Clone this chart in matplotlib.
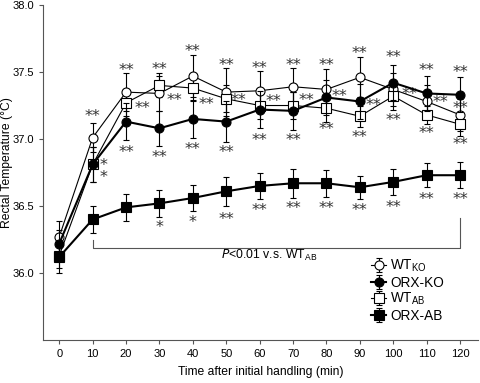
import matplotlib
matplotlib.use('Agg')
import matplotlib.pyplot as plt

plt.rcParams['font.family'] = ['Liberation Sans', 'DejaVu Sans']

# 시간 (min)
time = [0, 10, 20, 30, 40, 50, 60, 70, 80, 90, 100, 110, 120]

# 평균값
wt_ko = [36.27, 37.01, 37.35, 37.34, 37.47, 37.35, 37.36, 37.39, 37.37, 37.46, 37.37, 37.28, 37.18]
orx_ko = [36.22, 36.81, 37.13, 37.08, 37.15, 37.13, 37.22, 37.21, 37.31, 37.28, 37.42, 37.34, 37.33]
wt_ab = [36.13, 36.81, 37.27, 37.40, 37.38, 37.30, 37.25, 37.25, 37.23, 37.17, 37.32, 37.18, 37.11]
orx_ab = [36.12, 36.40, 36.49, 36.52, 36.56, 36.61, 36.65, 36.67, 36.67, 36.64, 36.68, 36.73, 36.73]

# SEM
wt_ko_err = [0.12, 0.11, 0.14, 0.13, 0.16, 0.18, 0.15, 0.14, 0.15, 0.15, 0.12, 0.12, 0.12]
orx_ko_err = [0.10, 0.13, 0.14, 0.13, 0.14, 0.15, 0.14, 0.14, 0.13, 0.13, 0.13, 0.13, 0.13]
wt_ab_err = [0.13, 0.13, 0.10, 0.09, 0.10, 0.10, 0.10, 0.10, 0.10, 0.08, 0.10, 0.07, 0.09]
orx_ab_err = [0.08, 0.10, 0.10, 0.10, 0.10, 0.11, 0.10, 0.11, 0.10, 0.085, 0.10, 0.09, 0.095]

# 유의성 표시 (x, y, 텍스트) - y는 별표 중심
stars_x = [10, 13.2, 13.2, 20, 24.8, 20, 30, 34.4, 30, 40, 44, 40, 50, 53.6, 50,
           60, 64, 60, 70, 74, 70, 80, 84, 80, 90, 94, 90, 100, 105, 100,
           110, 114, 110, 120, 120, 120,
           30, 40, 50, 60, 70, 80, 90, 100, 110, 120]
stars_y = [37.19, 36.82, 36.73, 37.53, 37.25, 36.92, 37.54, 37.31, 36.88, 37.67, 37.28, 36.94,
           37.57, 37.31, 36.92, 37.55, 37.30, 37.01, 37.57, 37.31, 37.01, 37.57, 37.34, 37.09,
           37.66, 37.27, 37.03, 37.63, 37.35, 37.16, 37.53, 37.29, 37.06, 37.52, 37.25, 36.98,
           36.36, 36.40, 36.42, 36.49, 36.50, 36.50, 36.49, 36.51, 36.57, 36.57]
stars_txt = ['**', '*', '*'] + ['**'] * 33 + ['*', '*'] + ['**'] * 8

fig = plt.figure(figsize=(4.8, 3.83), dpi=100)
ax = fig.add_axes([0.09, 0.112, 0.906, 0.875])

ekw = dict(color='black', elinewidth=0.8, capsize=2.5, capthick=0.8, markersize=6.5,
           markeredgecolor='black', markeredgewidth=0.8)
ax.errorbar(time, wt_ko, yerr=wt_ko_err, fmt='-o', lw=0.8, markerfacecolor='white',
            label='WT$_{\\mathregular{KO}}$', zorder=3, **ekw)
ax.errorbar(time, wt_ab, yerr=wt_ab_err, fmt='-s', lw=0.8, markerfacecolor='white',
            label='WT$_{\\mathregular{AB}}$', zorder=3, **ekw)
ax.errorbar(time, orx_ko, yerr=orx_ko_err, fmt='-o', lw=1.5, markerfacecolor='black',
            label='ORX-KO', zorder=4, **ekw)
ax.errorbar(time, orx_ab, yerr=orx_ab_err, fmt='-s', lw=1.5, markerfacecolor='black',
            label='ORX-AB', zorder=4, **ekw)

# 별표 글리프는 위쪽에 있으므로 baseline 기준으로 내려서 배치
for x, y, t in zip(stars_x, stars_y, stars_txt):
    ax.annotate(t, (x, y), xytext=(0, -5.2), textcoords='offset points',
                ha='center', va='baseline', fontsize=11.5, color='#333333',
                family='DejaVu Sans')

# P<0.01 괄호
ax.plot([10, 10, 120, 120], [36.25, 36.19, 36.19, 36.41], color='#555555', lw=0.8)
ax.text(63, 36.13, '$\\it{P}$<0.01 v.s. WT$_{\\mathregular{AB}}$', ha='center', va='center',
        fontsize=8.8)

ax.set_xlim(-4.8, 125.4)
ax.set_ylim(35.5, 38.0)
ax.set_xticks(time)
ax.set_yticks([36.0, 36.5, 37.0, 37.5, 38.0])
ax.set_yticklabels(['36.0', '36.5', '37.0', '37.5', '38.0'])
ax.tick_params(labelsize=8, length=3, width=0.8, color='#555555')
ax.spines['top'].set_visible(False)
ax.spines['right'].set_visible(False)
for s in ['left', 'bottom']:
    ax.spines[s].set_color('#555555')
ax.set_xlabel('Time after initial handling (min)', fontsize=8.7, labelpad=5)
ax.set_ylabel('Rectal Temperature (°C)', fontsize=8.7, labelpad=3)
ax.yaxis.set_label_coords(-0.07, 0.53)

h, l = ax.get_legend_handles_labels()
order = [0, 2, 1, 3]
ax.legend([h[i] for i in order], [l[i] for i in order], loc='lower right',
          bbox_to_anchor=(0.95, 0.015), frameon=False, fontsize=9.8, handlelength=1.1,
          handletextpad=0.3, labelspacing=0.1)

fig.savefig('out.png', dpi=100)
